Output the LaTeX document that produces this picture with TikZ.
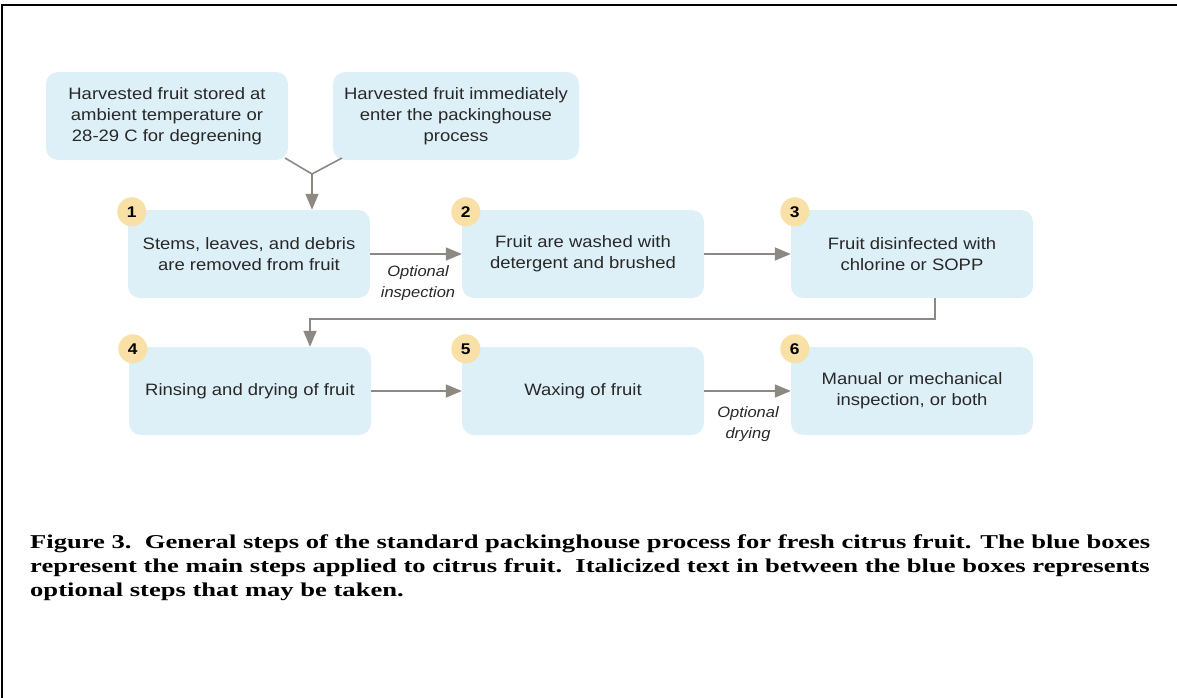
\documentclass[tikz,border=0pt]{standalone}
\usepackage{fontspec}
\setmainfont{Liberation Serif}
\setsansfont{Liberation Sans}
\newfontfamily\boxfont[FakeStretch=1.12]{Liberation Sans}
\newfontfamily\optfont[FakeStretch=1.1]{Liberation Sans}
\newfontfamily\capfont[FakeStretch=1.356]{Liberation Serif}
\usetikzlibrary{arrows.meta}

\definecolor{boxblue}{RGB}{221,240,248}
\definecolor{badgegold}{RGB}{248,224,166}
\definecolor{flowgray}{RGB}{140,136,130}
\definecolor{textgray}{RGB}{40,40,40}

\begin{document}
\begin{tikzpicture}[x=1pt, y=-1pt,
		stepbox/.style={fill=boxblue, rounded corners=12pt, minimum width=242pt, minimum height=88pt,
			align=center, text=textgray, font=\boxfont\fontsize{16.5}{21}\selectfont},
		badge/.style={circle, fill=badgegold, minimum size=29pt, inner sep=0pt,
			text=black, font=\boxfont\bfseries\fontsize{15.5}{15.5}\selectfont},
		flow/.style={draw=flowgray, line width=1.6pt, -{Triangle[length=16pt, width=13pt]}},
		optlabel/.style={align=center, text=textgray, font=\optfont\itshape\fontsize{15}{21}\selectfont},
		captionline/.style={anchor=base west, inner sep=0pt, font=\capfont\bfseries\fontsize{19.6}{24}\selectfont}]

		\useasboundingbox (0,0) rectangle (1177,698);

		% Draw frame
		\draw[line width=2.5pt] (1177,5) -- (2,5) -- (2,698);

		% Draw start boxes
		\node[stepbox] (stored) at (167,116) {Harvested fruit stored at\\ambient temperature or\\28-29 C for degreening};
		\node[stepbox, minimum width=246pt] (enter) at (456,116) {Harvested fruit immediately\\enter the packinghouse\\process};

		% Draw step boxes
		\node[stepbox] (s1) at (249,254) {Stems, leaves, and debris\\are removed from fruit};
		\node[stepbox] (s2) at (583,254) {Fruit are washed with\\detergent and brushed};
		\node[stepbox] (s3) at (912,254) {Fruit disinfected with\\chlorine or SOPP};
		\node[stepbox] (s4) at (250,391) {Rinsing and drying of fruit};
		\node[stepbox] (s5) at (583,391) {Waxing of fruit};
		\node[stepbox] (s6) at (912,391) {Manual or mechanical\\inspection, or both};

		% Number badges
		\foreach \n in {1,...,6}
			\node[badge] (b\n) at ([shift={(4,2)}]s\n.north west) {\n};

		% Merge the two starts
		\coordinate (merge) at (312,174);
		\draw[flowgray, line width=1.6pt] (285,158) -- (merge) -- (342,158);
		\draw[flow] (merge) -- (merge |- s1.north);

		% Connect steps
		\draw[flow] (s1) -- (s2);
		\draw[flow] (s2) -- (s3);
		\draw[flow] ([xshift=23pt]s3.south) -- ++(0,21) -| ([xshift=60pt]s4.north);
		\draw[flow] (s4) -- (s5);
		\draw[flow] (s5) -- (s6);

		% Optional steps
		\node[optlabel] (inspect) at (418,283) {Optional\\inspection};
		\node[optlabel] (drying) at (748,424) {Optional\\drying};

		% Caption
		\node[captionline] (cap1) at (30,548) {Figure 3.\ \ General steps of the standard packinghouse process for fresh citrus fruit. The blue boxes};
		\node[captionline] (cap2) at (30,572) {represent the main steps applied to citrus fruit.\ \ Italicized text in between the blue boxes represents};
		\node[captionline] (cap3) at (30,596) {optional steps that may be taken.};
	\end{tikzpicture}
\end{document}
